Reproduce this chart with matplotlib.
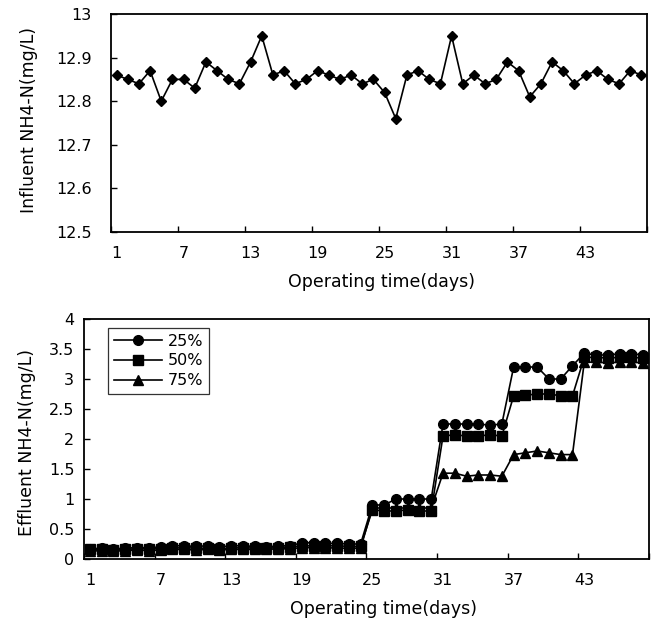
import matplotlib
matplotlib.use("Agg")
import matplotlib.pyplot as plt
import numpy as np

days = list(range(1, 49))
influent = [12.86, 12.85, 12.84, 12.87, 12.80, 12.85, 12.85, 12.83, 12.89, 12.87,
            12.85, 12.84, 12.89, 12.95, 12.86, 12.87, 12.84, 12.85, 12.87, 12.86,
            12.85, 12.86, 12.84, 12.85, 12.82, 12.76, 12.86, 12.87, 12.85, 12.84,
            12.95, 12.84, 12.86, 12.84, 12.85, 12.89, 12.87, 12.81, 12.84, 12.89,
            12.87, 12.84, 12.86, 12.87, 12.85, 12.84, 12.87, 12.86]

eff_25 = [0.17, 0.18, 0.17, 0.18, 0.19, 0.19, 0.20, 0.22, 0.22, 0.21, 0.22, 0.20,
          0.22, 0.22, 0.21, 0.20, 0.22, 0.22, 0.27, 0.27, 0.26, 0.26, 0.25, 0.25,
          0.90, 0.90, 1.00, 1.00, 1.00, 1.00,
          2.25, 2.25, 2.25, 2.25, 2.23, 2.25,
          3.20, 3.20, 3.20, 3.00, 3.00, 3.22,
          3.43, 3.40, 3.40, 3.42, 3.42, 3.40]
eff_50 = [0.16, 0.16, 0.15, 0.16, 0.17, 0.17, 0.17, 0.18, 0.19, 0.18, 0.18, 0.17,
          0.18, 0.19, 0.18, 0.18, 0.19, 0.20, 0.22, 0.22, 0.22, 0.22, 0.21, 0.21,
          0.82, 0.80, 0.80, 0.82, 0.80, 0.80,
          2.05, 2.07, 2.05, 2.05, 2.07, 2.05,
          2.72, 2.73, 2.75, 2.75, 2.72, 2.72,
          3.36, 3.36, 3.35, 3.36, 3.36, 3.35]
eff_75 = [0.13, 0.14, 0.13, 0.14, 0.15, 0.14, 0.15, 0.16, 0.16, 0.15, 0.16, 0.15,
          0.16, 0.16, 0.16, 0.16, 0.17, 0.17, 0.19, 0.19, 0.19, 0.18, 0.18, 0.18,
          0.85, 0.85, 0.85, 0.85, 0.85, 0.85,
          1.43, 1.43, 1.38, 1.40, 1.40, 1.38,
          1.74, 1.77, 1.80, 1.77, 1.74, 1.74,
          3.28, 3.28, 3.27, 3.28, 3.28, 3.27]

xtick_labels = [1, 7, 13, 19, 25, 31, 37, 43]
top_yticks = [12.5, 12.6, 12.7, 12.8, 12.9, 13.0]
top_ytick_labels = ["12.5", "12.6", "12.7", "12.8", "12.9", "13"]
bot_yticks = [0, 0.5, 1, 1.5, 2, 2.5, 3, 3.5, 4]
bot_ytick_labels = ["0", "0.5", "1", "1.5", "2", "2.5", "3", "3.5", "4"]

plt.rcParams['font.family'] = ['DejaVu Sans']
W, H = 653, 627
fig = plt.figure(figsize=(W / 100, H / 100), dpi=100)

def px_axes(l, t, r, b):
    return fig.add_axes([l / W, 1 - b / H, (r - l) / W, (b - t) / H])

fs = 11.5
lfs = 12.5

def style(ax, ypad):
    for s in ax.spines.values():
        s.set_linewidth(1.3)
        s.set_color('black')
    ax.set_xlim(0.5, 48.5)
    ax.set_xticks(xtick_labels)
    ax.set_xticklabels([str(v) for v in xtick_labels], fontsize=fs)
    ax.tick_params(axis='x', which='major', length=0, pad=10)
    ax.set_xticks(np.arange(0.5, 49, 6), minor=True)
    ax.tick_params(axis='x', which='minor', direction='in', length=4, width=1)
    ax.tick_params(axis='y', direction='in', length=4, width=1, labelsize=fs, pad=ypad)

# Top chart
ax1 = px_axes(111, 14, 647, 232)
ax1.plot(days, influent, color='black', lw=1.2, marker='D', markersize=5.5,
         markerfacecolor='black', markeredgecolor='black')
ax1.set_ylim(12.5, 13.0)
ax1.set_yticks(top_yticks)
ax1.set_yticklabels(top_ytick_labels)
style(ax1, 14)
ax1.set_xlabel("Operating time(days)", fontsize=lfs)
ax1.xaxis.set_label_coords(382 / W, 1 - 273 / H, transform=fig.transFigure)
ax1.set_ylabel("Influent NH4-N(mg/L)", fontsize=lfs)
ax1.yaxis.set_label_coords(38 / W, 1 - 120 / H, transform=fig.transFigure)

# Bottom chart
ax2 = px_axes(84, 319, 649, 559)
ax2.plot(days, eff_25, color='black', lw=1.2, marker='o', markersize=7, label='25%')
ax2.plot(days, eff_50, color='black', lw=1.2, marker='s', markersize=6.5, label='50%')
ax2.plot(days, eff_75, color='black', lw=1.2, marker='^', markersize=6.5, label='75%')
ax2.set_ylim(0, 4)
ax2.set_yticks(bot_yticks)
ax2.set_yticklabels(bot_ytick_labels)
style(ax2, 7)
ax2.set_xlabel("Operating time(days)", fontsize=lfs)
ax2.xaxis.set_label_coords(383 / W, 1 - 600 / H, transform=fig.transFigure)
ax2.set_ylabel("Effluent NH4-N(mg/L)", fontsize=lfs)
ax2.yaxis.set_label_coords(36 / W, 1 - 442 / H, transform=fig.transFigure)

leg = ax2.legend(loc='upper left', bbox_to_anchor=(108 / W, 1 - 328 / H),
                 bbox_transform=fig.transFigure, fontsize=11.5, frameon=True,
                 fancybox=False, edgecolor='black', handlelength=3.0,
                 borderpad=0.35, labelspacing=0.3, handletextpad=0.4,
                 borderaxespad=0)
leg.get_frame().set_linewidth(0.9)

fig.savefig("out.png", dpi=100)
